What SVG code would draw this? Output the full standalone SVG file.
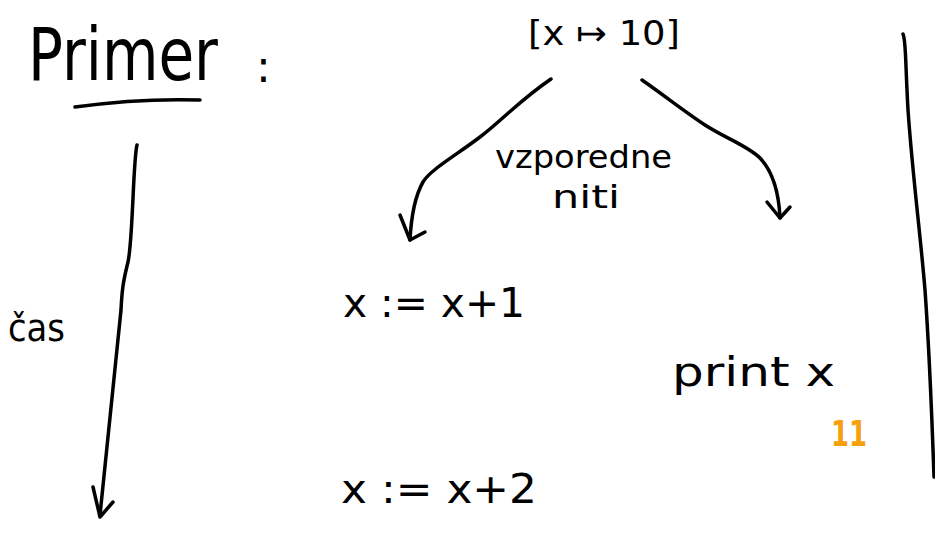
<svg xmlns="http://www.w3.org/2000/svg" width="935" height="559" viewBox="0 0 935 559">
<style>
text{font-family:"DejaVu Sans","Liberation Sans",sans-serif;fill:#000}
.ln{fill:none;stroke:#000;stroke-width:3.5;stroke-linecap:round;stroke-linejoin:round}
.or{fill:#f5a00c}
</style>
<rect width="935" height="559" fill="#fff"/>
<g id="title">
<text transform="translate(28,80) scale(1,1.25)" font-size="58">Primer</text>
<text x="256" y="82" font-size="44">:</text>
<path class="ln" d="M75 107 Q140 98 200 100"/>
</g>
<g id="state">
<text x="528" y="45" font-size="34" textLength="152" lengthAdjust="spacingAndGlyphs">[x ↦ 10]</text>
</g>
<g id="label-threads">
<text x="495" y="168" font-size="32" textLength="177" lengthAdjust="spacingAndGlyphs">vzporedne</text>
<text x="552" y="208" font-size="32" textLength="68" lengthAdjust="spacingAndGlyphs">niti</text>
</g>
<g id="time-label">
<text x="8" y="341" font-size="38" textLength="57" lengthAdjust="spacingAndGlyphs">čas</text>
</g>
<g id="thread1-step1">
<text x="343" y="317" font-size="40" textLength="182" lengthAdjust="spacingAndGlyphs">x := x+1</text>
</g>
<g id="thread1-step2">
<text x="341" y="503" font-size="40" textLength="196" lengthAdjust="spacingAndGlyphs">x :=  x+2</text>
</g>
<g id="thread2-step1">
<text x="672" y="386" font-size="40" textLength="163" lengthAdjust="spacingAndGlyphs">print  x</text>
</g>
<g id="output">
<text class="or" x="831" y="446" font-size="36" font-weight="bold" textLength="36" lengthAdjust="spacingAndGlyphs">11</text>
</g>
<g id="connectors">
<path class="ln" d="M551 79 C520 100 500 122 480 137 C455 156 430 170 423 182 C414 198 411 220 410 240"/>
<path class="ln" d="M400 215 L410 240 L425 232"/>
<path class="ln" d="M642 80 C665 96 685 112 705 125 C725 138 748 146 760 158 C773 172 779 195 780 218"/>
<path class="ln" d="M767 202 L780 218 L790 207"/>
<path class="ln" d="M137 145 C133 160 133 240 128 262 C123 282 122 290 121 310 L100 515"/>
<path class="ln" d="M93 487 L100 517 L113 502"/>
<path class="ln" d="M903 34 C906 40 905 55 908 110 C913 180 920 230 925 290 C930 360 932 420 934 477"/>
</g>
</svg>
